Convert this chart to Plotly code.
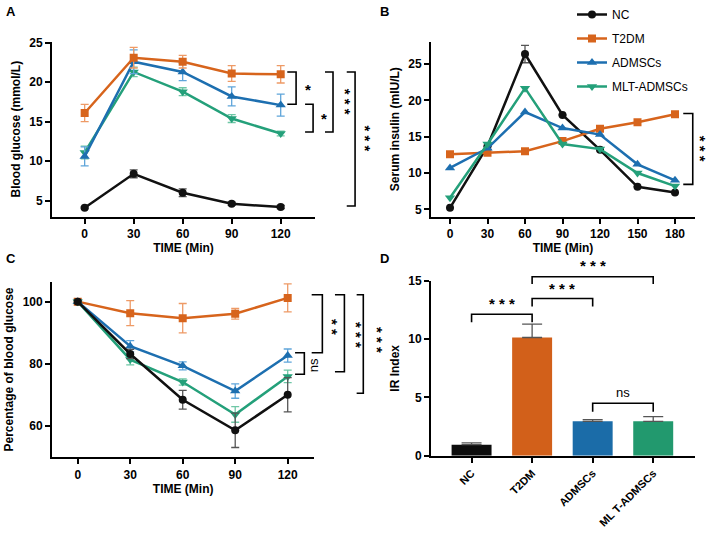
import plotly.graph_objects as go

W, H = 708, 533

# ---------------- data ----------------
groups = ["NC", "T2DM", "ADMSCs", "MLT-ADMSCs"]
bar_labels = ["NC", "T2DM", "ADMSCs", "ML T-ADMSCs"]

time_ogtt = [0, 30, 60, 90, 120]
time_ins = [0, 30, 60, 90, 120, 150, 180]

# Panel A: blood glucose (mmol/L)
glu_nc = [4.1, 8.4, 6.0, 4.6, 4.2]
glu_nc_err = [0.1, 0.5, 0.5, 0.2, 0.2]
glu_t2dm = [16.1, 23.1, 22.6, 21.1, 21.0]
glu_t2dm_err = [1.1, 1.3, 0.8, 1.0, 1.1]
glu_adm = [10.6, 22.6, 21.3, 18.2, 17.1]
glu_adm_err = [1.2, 1.5, 1.1, 1.2, 1.4]
glu_mlt = [11.1, 21.3, 18.8, 15.4, 13.5]
glu_mlt_err = [0.8, 0.6, 0.5, 0.5, 0.3]

# Panel B: serum insulin (mIU/L)
ins_nc = [5.2, 13.7, 26.4, 18.0, 13.2, 8.1, 7.3]
ins_nc_err = [0, 0, 1.2, 0, 0, 0, 0]
ins_t2dm = [12.6, 12.8, 13.0, 14.4, 16.1, 17.0, 18.1]
ins_adm = [10.7, 13.4, 18.4, 16.2, 15.3, 11.2, 9.0]
ins_mlt = [6.6, 14.0, 21.7, 14.0, 13.3, 10.0, 8.2]

# Panel C: percentage of blood glucose
pct_nc = [100, 83.2, 68.5, 58.7, 70.1]
pct_nc_err = [0.5, 1.5, 3.0, 5.5, 5.5]
pct_t2dm = [100, 96.3, 94.7, 96.1, 101.2]
pct_t2dm_err = [0.5, 4.0, 4.7, 1.7, 4.5]
pct_adm = [100, 85.7, 79.4, 71.3, 82.7]
pct_adm_err = [0.5, 1.8, 1.3, 2.3, 2.1]
pct_mlt = [100, 81.4, 74.2, 63.8, 76.0]
pct_mlt_err = [0.5, 1.7, 1.0, 2.5, 2.0]

# Panel D: IR index
ir_vals = [0.95, 10.15, 2.95, 2.95]
ir_err = [0.15, 1.15, 0.15, 0.4]

# significance labels
sig_a = ["*", "*", "* * *", "* * *"]
sig_b = ["* * *"]
sig_c = ["ns", "* *", "* * *", "* * *"]
sig_d = ["* * *", "* * *", "* * *", "ns"]

# ---------------- style ----------------
C_NC = "#111111"
C_T2 = "#D7641C"
C_AD = "#1D6FB0"
C_ML = "#24A07A"
E_NC = "#555555"
E_T2 = "#EE9A66"
E_AD = "#5FA5DA"
E_ML = "#6FC7A6"
BAR_COLORS = ["#0d0d0d", "#D2601A", "#1B6CA8", "#22996E"]

FONT = "Arial, Liberation Sans, sans-serif"
TICKF = dict(family=FONT, size=12, color="black", weight="bold")
TITLEF = dict(family=FONT, size=12, color="black", weight="bold")


def fx(px):
    return px / W


def fy(py):
    return 1 - py / H


fig = go.Figure()

series_style = [
    ("NC", C_NC, E_NC, "circle", 8),
    ("T2DM", C_T2, E_T2, "square", 8),
    ("ADMSCs", C_AD, E_AD, "triangle-up", 9),
    ("MLT-ADMSCs", C_ML, E_ML, "triangle-down", 9),
]

# ----- Panel B (carries legend) -----
ins_series = [(ins_nc, ins_nc_err), (ins_t2dm, None), (ins_adm, None), (ins_mlt, None)]
for (name, c, ec, sym, ms), (vals, err) in zip(series_style, ins_series):
    tr = dict(
        x=time_ins, y=vals, name=name, mode="lines+markers",
        line=dict(color=c, width=2.5),
        marker=dict(color=c, symbol=sym, size=ms),
        xaxis="x2", yaxis="y2", showlegend=True, legendgroup=name,
    )
    if err is not None:
        tr["error_y"] = dict(type="data", array=err, color=E_NC, thickness=1.3, width=4)
    fig.add_trace(go.Scatter(**tr))

# ----- Panel A -----
glu_series = [(glu_nc, glu_nc_err), (glu_t2dm, glu_t2dm_err), (glu_adm, glu_adm_err), (glu_mlt, glu_mlt_err)]
for i in [0, 3, 2, 1]:
    name, c, ec, sym, ms = series_style[i]
    vals, err = glu_series[i]
    fig.add_trace(go.Scatter(
        x=time_ogtt, y=vals, name=name, mode="lines+markers",
        line=dict(color=c, width=2.5),
        marker=dict(color=c, symbol=sym, size=ms),
        error_y=dict(type="data", array=err, color=ec, thickness=1.3, width=4),
        xaxis="x", yaxis="y", showlegend=False, legendgroup=name,
    ))

# ----- Panel C -----
pct_series = [(pct_nc, pct_nc_err), (pct_t2dm, pct_t2dm_err), (pct_adm, pct_adm_err), (pct_mlt, pct_mlt_err)]
for i in [1, 2, 3, 0]:
    name, c, ec, sym, ms = series_style[i]
    vals, err = pct_series[i]
    fig.add_trace(go.Scatter(
        x=time_ogtt, y=vals, name=name, mode="lines+markers",
        line=dict(color=c, width=2.5),
        marker=dict(color=c, symbol=sym, size=ms),
        error_y=dict(type="data", array=err, color=ec, thickness=1.3, width=4),
        xaxis="x3", yaxis="y3", showlegend=False, legendgroup=name,
    ))

# ----- Panel D -----
fig.add_trace(go.Bar(
    x=bar_labels, y=ir_vals, marker=dict(color=BAR_COLORS, line=dict(width=0)),
    width=0.66,
    error_y=dict(type="data", array=ir_err, arrayminus=[0] * 4, color="#555555",
                 thickness=1.3, width=10),
    xaxis="x4", yaxis="y4", showlegend=False,
))

# ---------------- significance brackets (overlay axes) ----------------
def bracket_trace(brs, xa, ya):
    xs, ys = [], []
    for (x0, x1, y0, y1) in brs:
        xs += [x0, x1, x1, x0, None]
        ys += [y0, y0, y1, y1, None]
    return go.Scatter(x=xs, y=ys, mode="lines", line=dict(color="black", width=1.6),
                      xaxis=xa, yaxis=ya, showlegend=False, hoverinfo="skip")


def dbracket_trace(brs, xa, ya):
    xs, ys = [], []
    for (x0, x1, ytop, ybot0, ybot1) in brs:
        xs += [x0, x0, x1, x1, None]
        ys += [ybot0, ytop, ytop, ybot1, None]
    return go.Scatter(x=xs, y=ys, mode="lines", line=dict(color="black", width=1.6),
                      xaxis=xa, yaxis=ya, showlegend=False, hoverinfo="skip")


br_a = [(124.0, 129.4, 21.3, 17.2), (134.9, 139.8, 17.2, 13.7),
        (147.1, 152.0, 21.3, 13.7), (160.4, 165.5, 21.3, 4.33)]
txt_a = [(136.7, 19.1, 0), (146.7, 15.4, 0), (159.4, 17.5, 90), (172.0, 12.9, 90)]
br_b = [(186.6, 194.2, 18.2, 8.44)]
txt_b = [(200.5, 13.4, 90)]
br_c = [(124.2, 129.5, 83.6, 76.7), (133.7, 139.8, 102.2, 83.6),
        (147.0, 152.4, 102.2, 77.5), (159.4, 163.2, 102.2, 70.6)]
txt_c = [(135.2, 79.7, -90), (145.7, 92.0, 90), (159.0, 89.3, 90), (171.0, 87.7, 90)]
br_d = [(0, 1, 12.14, 11.45, 11.45), (1, 2, 13.5, 12.8, 12.8),
        (1, 3, 15.37, 14.74, 14.74), (2, 3, 4.5, 3.78, 3.78)]
txt_d = [(0.5, 13.1, 0), (1.5, 14.35, 0), (2.0, 16.3, 0), (2.5, 5.4, 0)]

fig.add_trace(bracket_trace(br_a, "x5", "y5"))
fig.add_trace(bracket_trace(br_b, "x6", "y6"))
fig.add_trace(bracket_trace(br_c, "x7", "y7"))
fig.add_trace(dbracket_trace(br_d, "x8", "y8"))

annotations = []
for labels, pos, xr, yr in [(sig_a, txt_a, "x5", "y5"), (sig_b, txt_b, "x6", "y6"),
                            (sig_c, txt_c, "x7", "y7"), (sig_d, txt_d, "x8", "y8")]:
    for lab, (x, y, ang) in zip(labels, pos):
        is_ns = lab == "ns"
        annotations.append(dict(
            x=x, y=y, xref=xr, yref=yr, text=lab, showarrow=False, textangle=ang,
            xanchor="center", yanchor="middle",
            font=dict(family=FONT, size=13 if is_ns else 15, color="black",
                      weight="normal" if is_ns else "bold"),
        ))

for lab, px, py in [("A", 11, 11), ("B", 385, 11), ("C", 11, 258), ("D", 385, 258)]:
    annotations.append(dict(x=fx(px), y=fy(py), xref="paper", yref="paper", text=lab,
                            showarrow=False, xanchor="center", yanchor="middle",
                            font=dict(family=FONT, size=13, color="black", weight="bold")))

axis_common = dict(showline=True, linecolor="black", linewidth=1.8, ticks="outside",
                   ticklen=5, tickwidth=1.8, tickcolor="black", showgrid=False,
                   zeroline=False, tickfont=TICKF, fixedrange=True, automargin=False)

dom_x_left = [fx(52), fx(315)]
dom_x_right = [fx(431), fx(695)]
dom_y_top = [fy(216.7), fy(41.7)]
dom_y_bot_c = [fy(457.3), fy(281.7)]
dom_y_bot_d = [fy(455.7), fy(281)]

hidden = dict(visible=False, fixedrange=True, showgrid=False, zeroline=False)

fig.update_layout(
    width=W, height=H,
    margin=dict(l=0, r=0, t=0, b=0, autoexpand=False),
    paper_bgcolor="white", plot_bgcolor="rgba(0,0,0,0)",
    font=dict(family=FONT, color="black"),
    xaxis=dict(axis_common, domain=dom_x_left, anchor="y", range=[-20, 141],
               tickvals=time_ogtt, title=dict(text="TIME (Min)", font=TITLEF, standoff=4)),
    yaxis=dict(axis_common, domain=dom_y_top, anchor="x", range=[2.97, 25.13],
               tickvals=[5, 10, 15, 20, 25],
               title=dict(text="Blood glucose (mmol/L)", font=TITLEF, standoff=6)),
    xaxis2=dict(axis_common, domain=dom_x_right, anchor="y2", range=[-15.2, 196],
                tickvals=time_ins, title=dict(text="TIME (Min)", font=TITLEF, standoff=4)),
    yaxis2=dict(axis_common, domain=dom_y_top, anchor="x2", range=[3.98, 28.1],
                tickvals=[5, 10, 15, 20, 25],
                title=dict(text="Serum insulin (mIU/L)", font=TITLEF, standoff=6)),
    xaxis3=dict(axis_common, domain=[fx(52), fx(314.3)], anchor="y3", range=[-14.7, 135.2],
                tickvals=time_ogtt, title=dict(text="TIME (Min)", font=TITLEF, standoff=4)),
    yaxis3=dict(axis_common, domain=dom_y_bot_c, anchor="x3", range=[50.05, 106.4],
                tickvals=[60, 80, 100],
                title=dict(text="Percentage of blood glucose", font=TITLEF, standoff=6)),
    xaxis4=dict(axis_common, domain=dom_x_right, anchor="y4", range=[-0.67, 3.69],
                type="category", tickangle=-45,
                tickfont=dict(family=FONT, size=11, color="black", weight="bold")),
    yaxis4=dict(axis_common, domain=dom_y_bot_d, anchor="x4", range=[0, 15],
                tickvals=[0, 5, 10, 15],
                title=dict(text="IR Index", font=TITLEF, standoff=6)),
    xaxis5=dict(hidden, domain=[fx(52), fx(375)], anchor="y5", range=[-20, 177.7]),
    yaxis5=dict(hidden, domain=dom_y_top, anchor="x5", range=[2.97, 25.13]),
    xaxis6=dict(hidden, domain=[fx(431), fx(708)], anchor="y6", range=[-15.2, 206.4]),
    yaxis6=dict(hidden, domain=dom_y_top, anchor="x6", range=[3.98, 28.1]),
    xaxis7=dict(hidden, domain=[fx(52), fx(385)], anchor="y7", range=[-14.7, 175.6]),
    yaxis7=dict(hidden, domain=dom_y_bot_c, anchor="x7", range=[50.05, 106.4]),
    xaxis8=dict(hidden, domain=dom_x_right, anchor="y8", range=[-0.67, 3.69]),
    yaxis8=dict(hidden, domain=[fy(455.7), fy(240)], anchor="x8", range=[0, 18.52]),
    legend=dict(x=fx(572), y=fy(0), xanchor="left", yanchor="top",
                font=dict(family=FONT, size=12, color="black"),
                bgcolor="rgba(0,0,0,0)", itemwidth=30, tracegroupgap=5,
                traceorder="grouped"),
    annotations=annotations,
)

fig.write_html("out.html",
               config={"displayModeBar": False},
               post_script="document.body.style.margin='0px';document.body.style.overflow='hidden';")
